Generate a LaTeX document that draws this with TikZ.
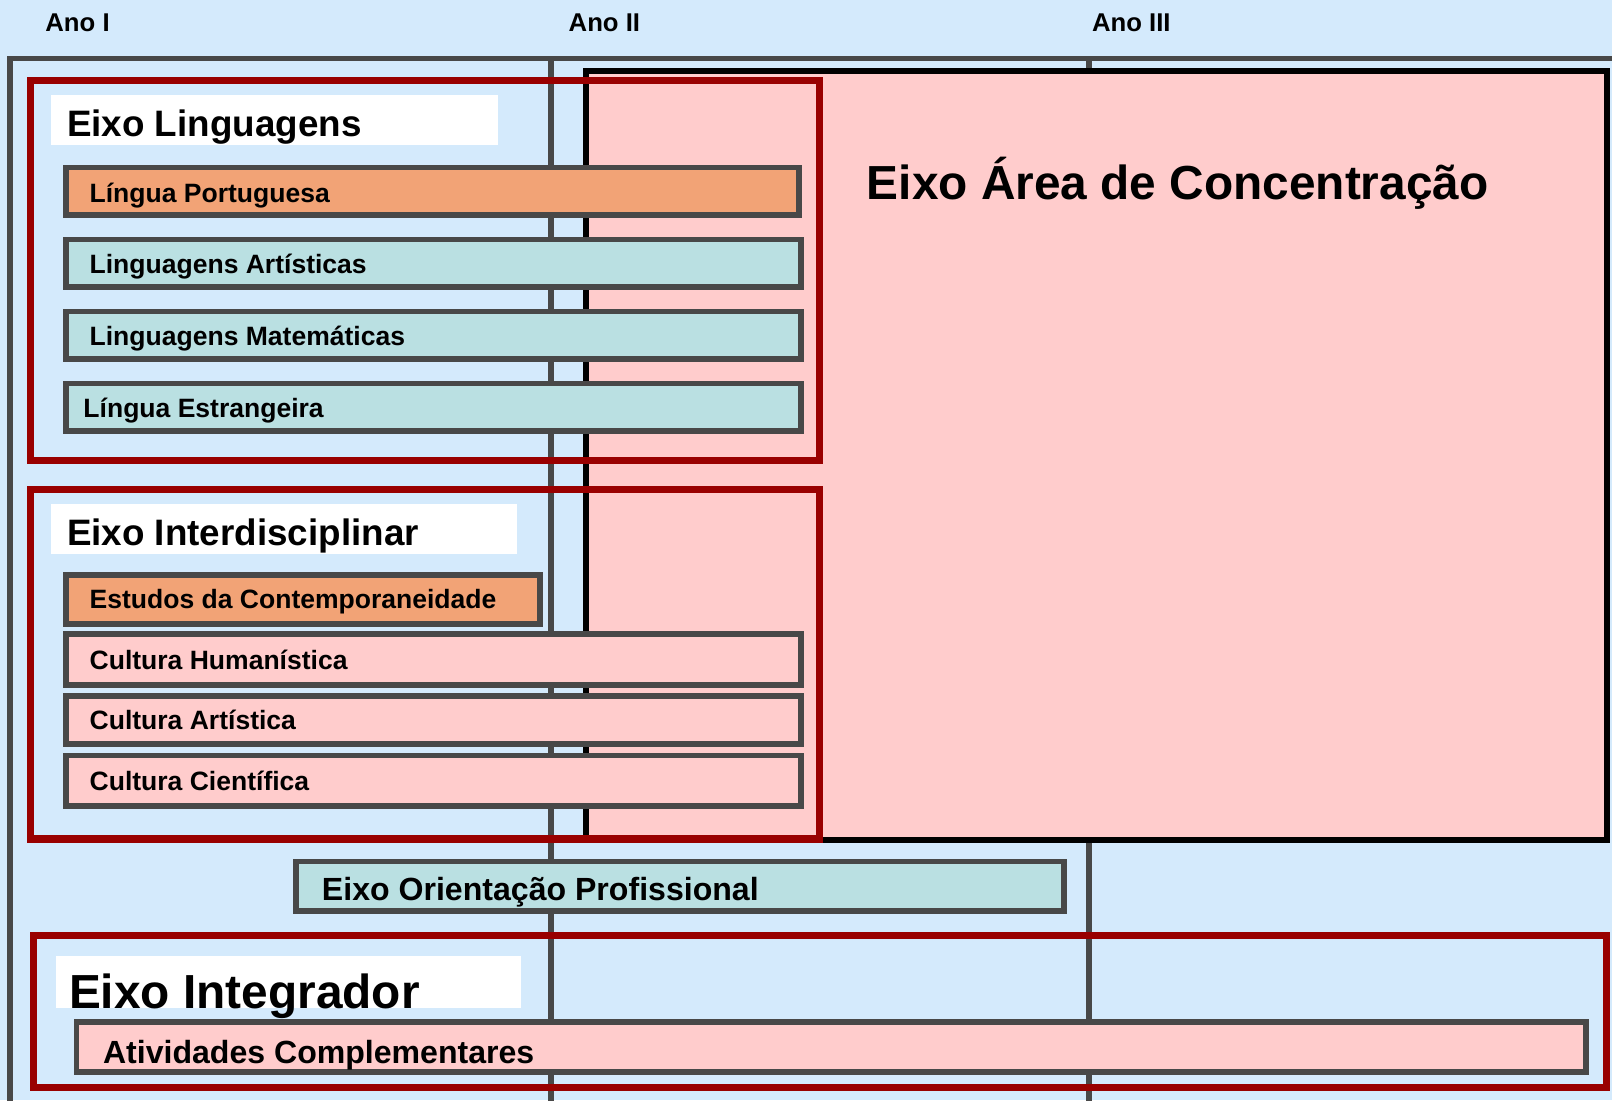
\documentclass[tikz,border=0pt]{standalone}
\usepackage{fontspec}
\setmainfont{Liberation Sans}
\definecolor{bgblue}{RGB}{212,234,252}
\definecolor{pinkf}{RGB}{255,204,204}
\definecolor{orangef}{RGB}{242,163,118}
\definecolor{tealf}{RGB}{186,224,226}
\definecolor{greyl}{RGB}{72,72,72}
\definecolor{redl}{RGB}{153,0,0}
\begin{document}
\begin{tikzpicture}[x=1pt,y=-1pt,
  gridline/.style={draw=greyl, line width=5.5pt},
  barbox/.style={draw=greyl, line width=5.5pt},
  axisbox/.style={draw=redl, line width=7pt},
  areabox/.style={draw=black, fill=pinkf, line width=5.5pt},
  headtxt/.style={anchor=base west, inner sep=0pt, font=\bfseries\fontsize{25}{29}\selectfont},
  bartxt/.style={anchor=base west, inner sep=0pt, font=\bfseries\fontsize{25.8}{30}\selectfont},
  midtxt/.style={anchor=base west, inner sep=0pt, font=\bfseries\fontsize{31.2}{36}\selectfont},
  axistxt/.style={anchor=base west, inner sep=0pt, font=\bfseries\fontsize{35.8}{42}\selectfont},
  bigtxt/.style={anchor=base west, inner sep=0pt, font=\bfseries\fontsize{46.5}{54}\selectfont}]
\useasboundingbox (0,0) rectangle (1568,1070);
\clip (0,0) rectangle (1568,1070);
\fill[bgblue] (0,0) rectangle (1568,1070);

% year headers
\node[headtxt] (ano1) at (44,31) {Ano I};
\node[headtxt] (ano2) at (553,31) {Ano II};
\node[headtxt] (ano3) at (1062,31) {Ano III};

% grid frame and year separators
\draw[gridline] (10,1080) -- (10,57) -- (1580,57);
\draw[gridline] (536,57) -- (536,1080);
\draw[gridline] (1059,57) -- (1059,1080);

% Eixo Area de Concentracao
\path[areabox] (570,69) rectangle (1563,817);
\node[bigtxt] (area) at (843,194) {Eixo Área de Concentração};

% Eixo Linguagens
\fill[white] (50,92) rectangle (484,141);
\node[axistxt] (ling) at (65,133) {Eixo Linguagens};
\path[barbox, fill=orangef] (64,163) rectangle (777,209);
\node[bartxt] (lp) at (87,197) {Língua Portuguesa};
\path[barbox, fill=tealf] (64,233) rectangle (779,279);
\node[bartxt] (la) at (87,266) {Linguagens Artísticas};
\path[barbox, fill=tealf] (64,303) rectangle (779,349);
\node[bartxt] (lm) at (87,336) {Linguagens Matemáticas};
\path[barbox, fill=tealf] (64,373) rectangle (779,419);
\node[bartxt] (le) at (81,406) {Língua Estrangeira};
\draw[axisbox] (30,78) rectangle (797,448);

% Eixo Interdisciplinar
\fill[white] (50,490) rectangle (503,539);
\node[axistxt] (inter) at (65,531) {Eixo Interdisciplinar};
\path[barbox, fill=orangef] (64,559) rectangle (525,607);
\node[bartxt] (ec) at (87,592) {Estudos da Contemporaneidade};
\path[barbox, fill=pinkf] (64,617) rectangle (779,666);
\node[bartxt] (ch) at (87,651) {Cultura Humanística};
\path[barbox, fill=pinkf] (64,677) rectangle (779,724);
\node[bartxt] (ca) at (87,710) {Cultura Artística};
\path[barbox, fill=pinkf] (64,735) rectangle (779,784);
\node[bartxt] (cc) at (87,769) {Cultura Científica};
\draw[axisbox] (30,476) rectangle (797,816);

% Eixo Orientacao Profissional
\path[barbox, fill=tealf] (288,838) rectangle (1035,886);
\node[midtxt] (eop) at (313,876) {Eixo Orientação Profissional};

% Eixo Integrador
\fill[white] (54,930) rectangle (507,980);
\node[bigtxt] (integ) at (67,981) {Eixo Integrador};
\path[barbox, fill=pinkf] (74.5,994) rectangle (1543,1043);
\node[midtxt] (ac) at (100,1034) {Atividades Complementares};
\draw[axisbox] (32.5,910) rectangle (1563,1058);
\end{tikzpicture}
\end{document}
